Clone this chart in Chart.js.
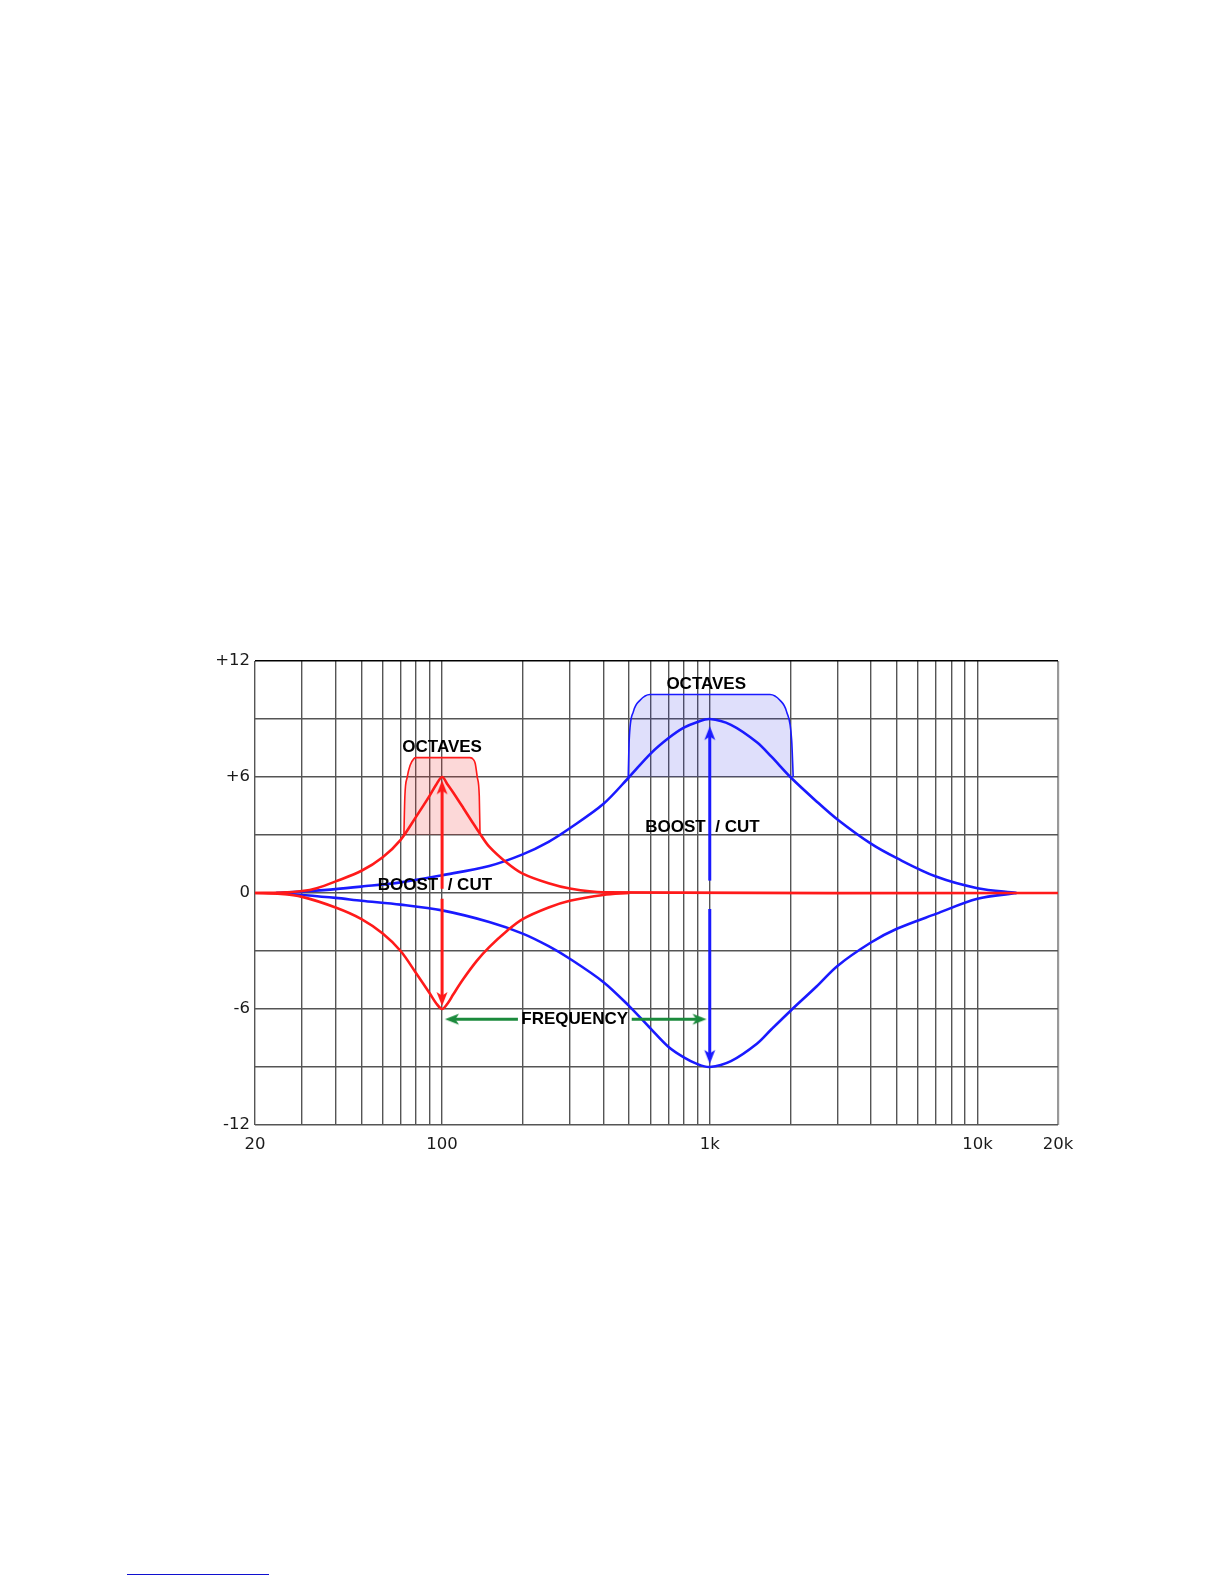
<!DOCTYPE html>
<html>
<head>
<meta charset="utf-8">
<script src="https://cdn.jsdelivr.net/npm/chart.js@4.4.1/dist/chart.umd.min.js"></script>
<style>
    body { margin: 0; background: #fff; }
    #wrap { position: relative; width: 1225px; height: 1585px; }
    #link { position: absolute; left: 127px; top: 1574px; width: 142px; height: 1px; background: #1010d0; }
</style>
</head>
<body>
<div id="wrap">
    <canvas id="eqChart" width="1225" height="1585"></canvas>
    <div id="link"></div>
</div>
<script>
// axis ticks
const xGridFreqs = [20, 30, 40, 50, 60, 70, 80, 90, 100, 200, 300, 400, 500, 600, 700, 800, 900,
    1000, 2000, 3000, 4000, 5000, 6000, 7000, 8000, 9000, 10000, 20000];
const xLabelFreqs = [20, 100, 1000, 10000, 20000];
const xLabelTexts = ['20', '100', '1k', '10k', '20k'];
const yLabelValues = [12, 6, 0, -6, -12];
const yLabelTexts = ['+12', '+6', '0', '-6', '-12'];

// red band (100 Hz)
const redBoostFreqs = [20, 25, 30, 34, 40, 50, 60, 70, 80, 90, 95, 100, 105, 110, 120, 130, 138, 150, 175, 200, 250, 300, 400, 20000];
const redBoost = [0, 0.02, 0.1, 0.25, 0.6, 1.15, 1.85, 2.75, 3.95, 5.05, 5.6, 6.0, 5.6, 5.2, 4.4, 3.65, 3.1, 2.4, 1.55, 1.0, 0.5, 0.23, 0.03, 0];
const redCutFreqs = [20, 25, 30, 40, 50, 60, 70, 80, 90, 95, 100, 105, 110, 120, 135, 150, 175, 200, 250, 300, 400, 500];
const redCut = [0, -0.05, -0.2, -0.75, -1.35, -2.1, -3.0, -4.15, -5.2, -5.7, -6.0, -5.7, -5.25, -4.45, -3.5, -2.8, -1.95, -1.35, -0.75, -0.4, -0.1, 0];

// blue band (1 kHz)
const blueFreqs = [24, 30, 40, 50, 70, 100, 150, 200, 250, 300, 400, 500, 600, 700, 800, 900, 1000, 1200, 1500, 1700, 2000, 2500, 3000, 4000, 5000, 7000, 10000, 14000];
const blueBoost = [0, 0.08, 0.2, 0.33, 0.55, 0.92, 1.4, 2.0, 2.65, 3.35, 4.6, 6.0, 7.2, 8.0, 8.55, 8.85, 9.0, 8.7, 7.8, 7.05, 6.0, 4.75, 3.8, 2.55, 1.8, 0.85, 0.25, 0];
const blueCut = [0, -0.1, -0.25, -0.4, -0.6, -0.9, -1.5, -2.1, -2.75, -3.4, -4.6, -5.85, -7.0, -7.95, -8.5, -8.85, -9.0, -8.7, -7.8, -7.05, -6.1, -4.85, -3.77, -2.56, -1.85, -1.08, -0.3, 0];

// "octaves" brackets
const redOctFreqs = [72, 72.6, 74.1, 75.9, 78.5, 80, 127, 131, 133, 135.3, 137.7, 138.6];
const redOctDb = [3, 5.0, 6.0, 6.6, 6.95, 7.0, 7.0, 6.9, 6.7, 6.0, 5.0, 3.0];
const blueOctFreqs = [496, 500, 518, 549, 598, 1679, 1829, 1938, 2023, 2050];
const blueOctDb = [6, 7.9, 9.37, 9.97, 10.27, 10.27, 9.97, 9.37, 7.9, 6];

// arrows: [fromFreq, fromDb, toFreq, toDb]
const redUpArrow = [100, 0.22, 100, 5.57];
const redDownArrow = [100, -0.3, 100, -5.59];
const blueUpArrow = [1000, 0.64, 1000, 8.37];
const blueDownArrow = [1000, -0.83, 1000, -8.58];
const freqLeftArrow = [192, -6.53, 107, -6.53];
const freqRightArrow = [511, -6.53, 932, -6.53];

// annotations
const noteTexts = ['OCTAVES', 'OCTAVES', 'BOOST  / CUT', 'BOOST  / CUT', 'FREQUENCY'];
const noteFreqs = [100, 970, 94, 939, 313];
const noteDb = [7.55, 10.78, 0.41, 3.4, -6.53];

const RED = '#ff1a1a';
const BLUE = '#1a1aff';
const GREEN = '#1b8a3c';
const GRID = '#555555';

function toPoints(xs, ys) {
    return xs.map((x, i) => ({ x: x, y: ys[i] }));
}

function arrowHead(color) {
    const c = document.createElement('canvas');
    c.width = 28;
    c.height = 28;
    const g = c.getContext('2d');
    g.fillStyle = color;
    g.beginPath();
    g.moveTo(14, 9);
    g.lineTo(19.5, 23);
    g.lineTo(14, 19.5);
    g.lineTo(8.5, 23);
    g.closePath();
    g.fill();
    return c;
}

function curve(xs, ys, color) {
    return {
        data: toPoints(xs, ys),
        borderColor: color,
        borderWidth: 2.6,
        pointRadius: 0,
        fill: false,
        tension: 0.32,
    };
}

function bracket(xs, ys, color, fillColor, base) {
    return {
        data: toPoints(xs, ys),
        borderColor: color,
        backgroundColor: fillColor,
        borderWidth: 1.6,
        pointRadius: 0,
        fill: { value: base },
        cubicInterpolationMode: 'monotone',
    };
}

function arrow(a, color, rotation) {
    return {
        data: [{ x: a[0], y: a[1] }, { x: a[2], y: a[3] }],
        borderColor: color,
        backgroundColor: color,
        borderWidth: 3,
        borderCapStyle: 'butt',
        pointRadius: ctx => (ctx.dataIndex === 1 ? 5 : 0),
        pointStyle: arrowHead(color),
        pointRotation: rotation,
        fill: false,
        tension: 0,
    };
}

const notesPlugin = {
    id: 'notes',
    afterDatasetsDraw(chart) {
        const ctx = chart.ctx;
        const xs = chart.scales.x;
        const ys = chart.scales.y;
        ctx.save();
        ctx.font = 'bold 17px "Liberation Sans", Arial, sans-serif';
        ctx.fillStyle = '#000';
        ctx.textAlign = 'center';
        ctx.textBaseline = 'middle';
        noteTexts.forEach((t, i) => {
            ctx.fillText(t, xs.getPixelForValue(noteFreqs[i]), ys.getPixelForValue(noteDb[i]));
        });
        ctx.restore();
    },
};

const ctx = document.getElementById('eqChart').getContext('2d');
const eqChart = new Chart(ctx, {
    type: 'line',
    data: {
        datasets: [
            arrow(freqLeftArrow, GREEN, 270),
            arrow(freqRightArrow, GREEN, 90),
            arrow(redUpArrow, RED, 0),
            arrow(redDownArrow, RED, 180),
            arrow(blueUpArrow, BLUE, 0),
            arrow(blueDownArrow, BLUE, 180),
            curve(redBoostFreqs, redBoost, RED),
            curve(redCutFreqs, redCut, RED),
            curve(blueFreqs, blueBoost, BLUE),
            curve(blueFreqs, blueCut, BLUE),
            bracket(redOctFreqs, redOctDb, RED, 'rgba(240, 40, 40, 0.18)', 3),
            bracket(blueOctFreqs, blueOctDb, BLUE, 'rgba(40, 40, 230, 0.15)', 6),
        ],
    },
    options: {
        responsive: false,
        devicePixelRatio: 1,
        animation: false,
        events: [],
        layout: {
            padding: { top: 661, left: 195, right: 167, bottom: 420 },
        },
        plugins: {
            legend: { display: false },
            tooltip: { enabled: false },
        },
        scales: {
            x: {
                type: 'logarithmic',
                min: 20,
                max: 20000,
                afterBuildTicks: scale => {
                    scale.ticks = xGridFreqs.map(v => ({ value: v }));
                },
                afterFit: scale => {
                    scale.height = 40;
                },
                border: { display: false },
                grid: {
                    drawTicks: false,
                    color: c => (c.tick && c.tick.value === 20000 ? '#999999' : GRID),
                    lineWidth: c => (c.tick && c.tick.value === 20000 ? 2.2 : 1.4),
                },
                ticks: {
                    autoSkip: false,
                    maxRotation: 0,
                    padding: 10,
                    color: '#1a1a1a',
                    font: { family: 'DejaVu Sans', size: 16.5 },
                    callback: value => {
                        const i = xLabelFreqs.indexOf(Number(value));
                        return i >= 0 ? xLabelTexts[i] : '';
                    },
                },
            },
            y: {
                type: 'linear',
                min: -12,
                max: 12,
                afterFit: scale => {
                    scale.width = 60;
                },
                border: { display: false },
                grid: {
                    drawTicks: false,
                    color: c => (c.tick && c.tick.value === 12 ? '#000' : GRID),
                    lineWidth: 1.4,
                },
                ticks: {
                    stepSize: 3,
                    padding: 5,
                    color: '#1a1a1a',
                    font: { family: 'DejaVu Sans', size: 16.5 },
                    callback: value => {
                        const i = yLabelValues.indexOf(value);
                        return i >= 0 ? yLabelTexts[i] : '';
                    },
                },
            },
        },
    },
    plugins: [notesPlugin],
});
</script>
</body>
</html>
